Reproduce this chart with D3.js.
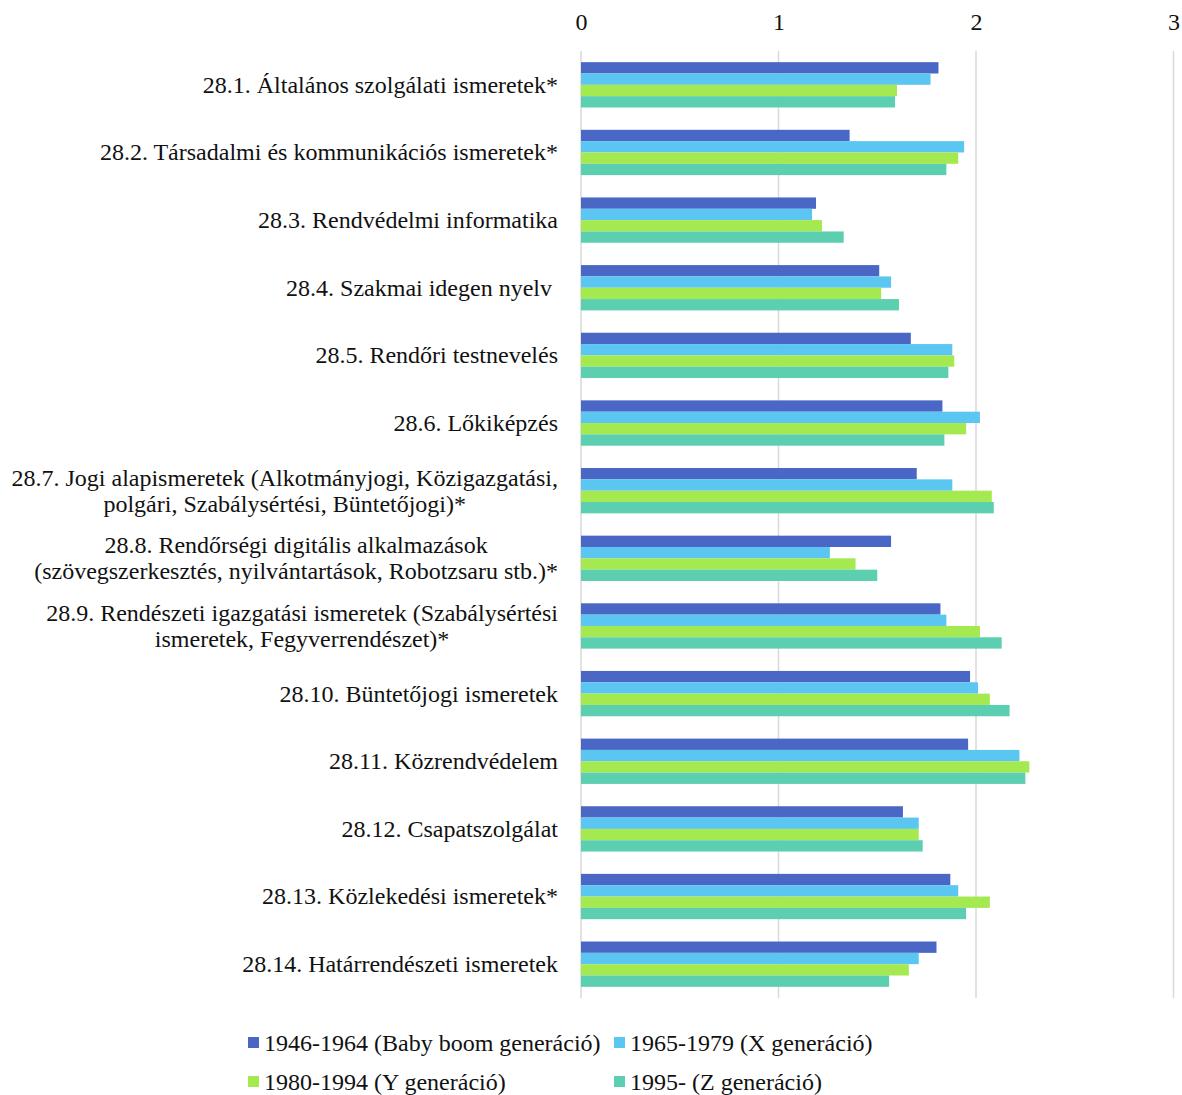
<!DOCTYPE html>
<html>
<head>
<meta charset="utf-8">
<script src="https://cdn.jsdelivr.net/npm/d3@7"></script>
<style>
  html, body { margin: 0; padding: 0; background: #fff; }
  svg text { font-family: "Liberation Serif", "Times New Roman", serif; fill: #111; white-space: pre; }
</style>
</head>
<body>
<svg id="chart" width="1182" height="1095"></svg>
<script>
// Subject areas (each entry may hold several lines)
const categories = [
  ["28.1. Általános szolgálati ismeretek*"],
  ["28.2. Társadalmi és kommunikációs ismeretek*"],
  ["28.3. Rendvédelmi informatika"],
  ["28.4. Szakmai idegen nyelv "],
  ["28.5. Rendőri testnevelés"],
  ["28.6. Lőkiképzés"],
  ["28.7. Jogi alapismeretek (Alkotmányjogi, Közigazgatási,", "polgári, Szabálysértési, Büntetőjogi)*"],
  ["28.8. Rendőrségi digitális alkalmazások", "(szövegszerkesztés, nyilvántartások, Robotzsaru stb.)*"],
  ["28.9. Rendészeti igazgatási ismeretek (Szabálysértési", "ismeretek, Fegyverrendészet)*"],
  ["28.10. Büntetőjogi ismeretek"],
  ["28.11. Közrendvédelem"],
  ["28.12. Csapatszolgálat"],
  ["28.13. Közlekedési ismeretek*"],
  ["28.14. Határrendészeti ismeretek"]
];

const seriesNames = [
  "1946-1964 (Baby boom generáció)",
  "1965-1979 (X generáció)",
  "1980-1994 (Y generáció)",
  "1995- (Z generáció)"
];
const seriesColors = ["#4A67C6", "#5BC6F2", "#A4E94F", "#5CCFB1"];

const babyBoom = [1.81, 1.36, 1.19, 1.51, 1.67, 1.83, 1.70, 1.57, 1.82, 1.97, 1.96, 1.63, 1.87, 1.80];
const genX     = [1.77, 1.94, 1.17, 1.57, 1.88, 2.02, 1.88, 1.26, 1.85, 2.01, 2.22, 1.71, 1.91, 1.71];
const genY     = [1.60, 1.91, 1.22, 1.52, 1.89, 1.95, 2.08, 1.39, 2.02, 2.07, 2.27, 1.71, 2.07, 1.66];
const genZ     = [1.59, 1.85, 1.33, 1.61, 1.86, 1.84, 2.09, 1.50, 2.13, 2.17, 2.25, 1.73, 1.95, 1.56];
const seriesValues = [babyBoom, genX, genY, genZ];

const xTicks = [0, 1, 2, 3];

const svg = d3.select("#chart");
const plotLeft = 581, plotRight = 1173.5, plotTop = 51, plotBottom = 998;
const fontSize = 24;

const x = d3.scaleLinear().domain([0, 3]).range([plotLeft, plotRight]);
const y = d3.scaleBand().domain(d3.range(categories.length)).range([plotTop, plotBottom]).paddingInner(0.33).paddingOuter(0.165);
const ySub = d3.scaleBand().domain(d3.range(seriesNames.length)).range([0, y.bandwidth()]);

// Vertical gridlines
svg.append("g").selectAll("line").data(xTicks).join("line")
  .attr("x1", d => x(d)).attr("x2", d => x(d))
  .attr("y1", plotTop).attr("y2", plotBottom)
  .attr("stroke", "#d9d9d9").attr("stroke-width", 1.5);

// Top axis labels
const axis = svg.append("g").attr("transform", `translate(0,${plotTop - 18})`)
  .call(d3.axisTop(x).tickValues(xTicks).tickFormat(d3.format("d")).tickSize(0));
axis.select(".domain").remove();
axis.selectAll("text").attr("font-size", fontSize).attr("font-family", "Liberation Serif, serif").attr("fill", "#111");

// Bars
const groups = svg.append("g").selectAll("g").data(categories).join("g")
  .attr("transform", (d, i) => `translate(0,${y(i)})`);

groups.selectAll("rect").data((d, i) => seriesValues.map((s, k) => ({ k, v: s[i] }))).join("rect")
  .attr("x", x(0))
  .attr("y", d => ySub(d.k))
  .attr("width", d => x(d.v) - x(0))
  .attr("height", ySub.bandwidth())
  .attr("fill", d => seriesColors[d.k]);

// Category labels: single lines right-aligned, multi-line blocks centered
const labelRight = 558;
const labelG = svg.append("g");
categories.forEach((lines, i) => {
  const cy = y(i) + y.bandwidth() / 2;
  const lh = 26;
  const g = labelG.append("g");
  const texts = lines.map((ln, j) => g.append("text")
    .attr("y", cy + (j - (lines.length - 1) / 2) * lh)
    .attr("dy", "0.33em")
    .attr("font-size", fontSize)
    .text(ln));
  if (lines.length === 1) {
    texts[0].attr("x", labelRight).attr("text-anchor", "end");
  } else {
    const widths = texts.map(t => t.node().getComputedTextLength());
    const maxW = Math.max(...widths);
    const cx = labelRight - maxW / 2;
    texts.forEach(t => t.attr("x", cx).attr("text-anchor", "middle"));
  }
});

// Legend
const legendItems = [
  { k: 0, x: 248, y: 1043 },
  { k: 1, x: 614, y: 1043 },
  { k: 2, x: 248, y: 1082 },
  { k: 3, x: 614, y: 1082 }
];
const lg = svg.append("g").selectAll("g").data(legendItems).join("g")
  .attr("transform", d => `translate(${d.x},${d.y})`);
lg.append("rect").attr("x", 0).attr("y", -6).attr("width", 11).attr("height", 11)
  .attr("fill", d => seriesColors[d.k]);
lg.append("text").attr("x", 16).attr("dy", "0.33em").attr("font-size", fontSize)
  .text(d => seriesNames[d.k]);
</script>
</body>
</html>
